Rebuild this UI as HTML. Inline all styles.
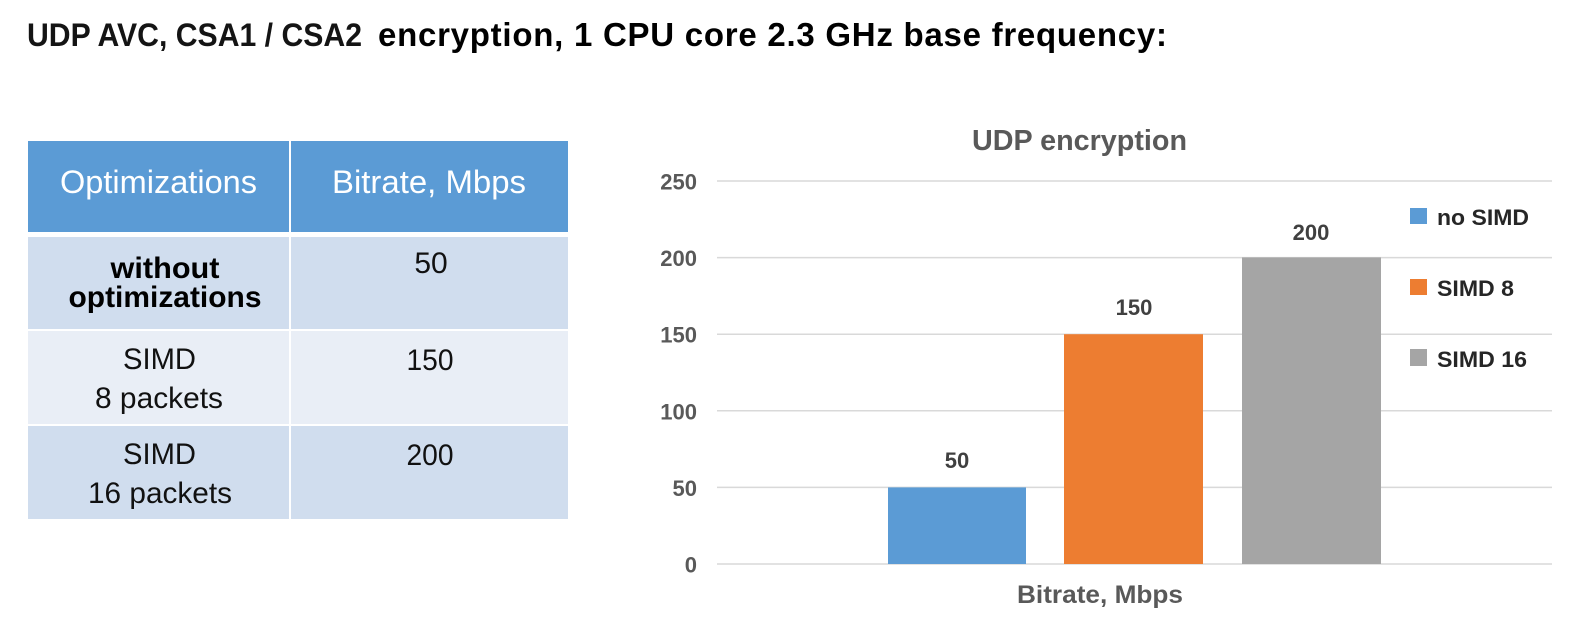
<!DOCTYPE html>
<html>
<head>
<meta charset="utf-8">
<style>
  html, body { margin: 0; padding: 0; background: #ffffff; }
  svg { display: block; }
  text { font-family: "Liberation Sans", "DejaVu Sans", sans-serif; }
</style>
</head>
<body>
<svg width="1582" height="636" viewBox="0 0 1582 636" xmlns="http://www.w3.org/2000/svg">
  <rect x="0" y="0" width="1582" height="636" fill="#ffffff"/>

  <!-- Main title -->
  <text x="27" y="46" font-size="32" font-weight="bold" fill="#141414" textLength="335" lengthAdjust="spacingAndGlyphs">UDP AVC, CSA1 / CSA2</text>
  <text x="378" y="46" font-size="33" font-weight="bold" fill="#000000" textLength="789" lengthAdjust="spacing">encryption, 1 CPU core 2.3 GHz base frequency:</text>

  <!-- Table -->
  <rect x="28" y="141" width="261" height="91" fill="#5B9BD5"/>
  <rect x="291" y="141" width="277" height="91" fill="#5B9BD5"/>
  <rect x="28" y="237" width="261" height="92" fill="#D0DDEE"/>
  <rect x="291" y="237" width="277" height="92" fill="#D0DDEE"/>
  <rect x="28" y="331" width="261" height="93" fill="#E9EEF6"/>
  <rect x="291" y="331" width="277" height="93" fill="#E9EEF6"/>
  <rect x="28" y="426" width="261" height="93" fill="#D0DDEE"/>
  <rect x="291" y="426" width="277" height="93" fill="#D0DDEE"/>

  <text x="158.5" y="193" font-size="32" fill="#ffffff" text-anchor="middle" textLength="197" lengthAdjust="spacingAndGlyphs">Optimizations</text>
  <text x="429" y="193" font-size="32" fill="#ffffff" text-anchor="middle" textLength="194" lengthAdjust="spacingAndGlyphs">Bitrate, Mbps</text>

  <text x="165" y="278" font-size="30" font-weight="bold" fill="#000000" text-anchor="middle" textLength="109" lengthAdjust="spacingAndGlyphs">without</text>
  <text x="165" y="307" font-size="30" font-weight="bold" fill="#000000" text-anchor="middle" textLength="193" lengthAdjust="spacingAndGlyphs">optimizations</text>
  <text x="431" y="273" font-size="30" fill="#111111" text-anchor="middle">50</text>

  <text x="159.5" y="369" font-size="30" fill="#111111" text-anchor="middle" textLength="73" lengthAdjust="spacingAndGlyphs">SIMD</text>
  <text x="159" y="408" font-size="30" fill="#111111" text-anchor="middle" textLength="128" lengthAdjust="spacingAndGlyphs">8 packets</text>
  <text x="430" y="370" font-size="30" fill="#111111" text-anchor="middle" textLength="47" lengthAdjust="spacingAndGlyphs">150</text>

  <text x="159.5" y="464" font-size="30" fill="#111111" text-anchor="middle" textLength="73" lengthAdjust="spacingAndGlyphs">SIMD</text>
  <text x="160" y="503" font-size="30" fill="#111111" text-anchor="middle" textLength="144" lengthAdjust="spacingAndGlyphs">16 packets</text>
  <text x="430" y="465" font-size="30" fill="#111111" text-anchor="middle" textLength="47" lengthAdjust="spacingAndGlyphs">200</text>

  <!-- Chart title -->
  <text x="1079.5" y="150" font-size="29" font-weight="bold" fill="#595959" text-anchor="middle" textLength="215" lengthAdjust="spacingAndGlyphs">UDP encryption</text>

  <!-- Gridlines -->
  <g stroke="#D9D9D9" stroke-width="1.5">
    <line x1="717" y1="181" x2="1552" y2="181"/>
    <line x1="717" y1="257.6" x2="1552" y2="257.6"/>
    <line x1="717" y1="334.2" x2="1552" y2="334.2"/>
    <line x1="717" y1="410.8" x2="1552" y2="410.8"/>
    <line x1="717" y1="487.4" x2="1552" y2="487.4"/>
    <line x1="717" y1="564" x2="1552" y2="564"/>
  </g>

  <!-- Y labels -->
  <g font-size="22" font-weight="bold" fill="#595959" text-anchor="end">
    <text x="697" y="189.5">250</text>
    <text x="697" y="266">200</text>
    <text x="697" y="342.7">150</text>
    <text x="697" y="419.3">100</text>
    <text x="697" y="496">50</text>
    <text x="697" y="572.5">0</text>
  </g>

  <!-- Bars -->
  <rect x="888" y="487.4" width="138" height="76.6" fill="#5B9BD5"/>
  <rect x="1064" y="334.2" width="139" height="229.8" fill="#ED7D31"/>
  <rect x="1242" y="257.4" width="139" height="306.6" fill="#A5A5A5"/>

  <!-- Data labels -->
  <g font-size="22" font-weight="bold" fill="#404040" text-anchor="middle">
    <text x="957" y="468">50</text>
    <text x="1134" y="315">150</text>
    <text x="1311" y="240">200</text>
  </g>

  <!-- X axis title -->
  <text x="1100" y="603" font-size="25" font-weight="bold" fill="#595959" text-anchor="middle" textLength="166" lengthAdjust="spacingAndGlyphs">Bitrate, Mbps</text>

  <!-- Legend -->
  <rect x="1410" y="208" width="17" height="16" fill="#5B9BD5"/>
  <rect x="1410" y="279" width="17" height="16" fill="#ED7D31"/>
  <rect x="1410" y="349" width="17" height="17" fill="#A5A5A5"/>
  <g font-size="22" font-weight="bold" fill="#262626">
    <text x="1437" y="225" textLength="92" lengthAdjust="spacingAndGlyphs">no SIMD</text>
    <text x="1437" y="296" textLength="77" lengthAdjust="spacingAndGlyphs">SIMD 8</text>
    <text x="1437" y="367" textLength="90" lengthAdjust="spacingAndGlyphs">SIMD 16</text>
  </g>
</svg>
</body>
</html>
